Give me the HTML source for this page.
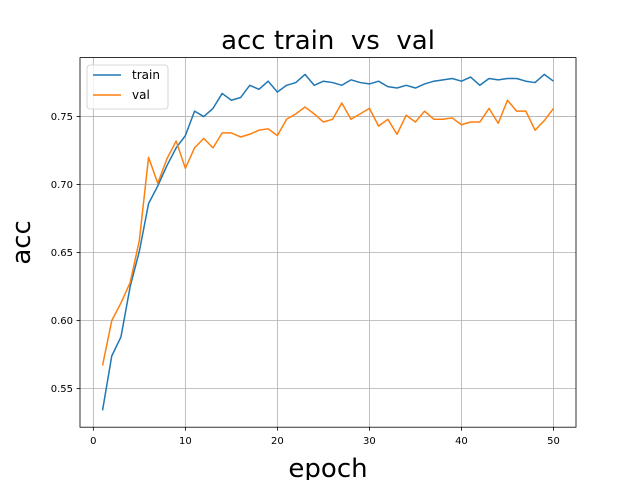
<!DOCTYPE html>
<html><head><meta charset="utf-8"><style>
html,body{margin:0;padding:0;background:#fff;}
svg{display:block;font-family:"DejaVu Sans","Liberation Sans",sans-serif;}
</style></head><body>
<svg id="chart" width="640" height="480" viewBox="0 0 640 480"></svg>
<script>
const epochs = Array.from({length:50},(_,i)=>i+1);
const trainAcc = [0.534,0.574,0.588,0.625,0.651,0.686,0.699,0.714,0.727,0.736,0.754,0.750,0.756,0.767,0.762,0.764,0.773,0.770,0.776,0.768,0.773,0.775,0.781,0.773,0.776,0.775,0.773,0.777,0.775,0.774,0.776,0.772,0.771,0.773,0.771,0.774,0.776,0.777,0.778,0.776,0.779,0.773,0.778,0.777,0.778,0.778,0.776,0.775,0.781,0.776];
const valAcc = [0.567,0.600,0.613,0.628,0.659,0.720,0.701,0.719,0.732,0.712,0.727,0.734,0.727,0.738,0.738,0.735,0.737,0.740,0.741,0.736,0.748,0.752,0.757,0.752,0.746,0.748,0.760,0.748,0.752,0.756,0.743,0.748,0.737,0.751,0.746,0.754,0.748,0.748,0.749,0.744,0.746,0.746,0.756,0.745,0.762,0.754,0.754,0.740,0.747,0.756];
const xTicks = [0,10,20,30,40,50];
const yTicks = [0.55,0.60,0.65,0.70,0.75];

const L=80,R=576,T=57.6,B=427.2;
const xMin=-1.45,xMax=52.45;
const allY=trainAcc.concat(valAcc);
const yLo=Math.min(...allY),yHi=Math.max(...allY),pad=(yHi-yLo)*0.05;
const yMin=yLo-pad,yMax=yHi+pad;
const X=v=>L+(v-xMin)/(xMax-xMin)*(R-L);
const Y=v=>B-(v-yMin)/(yMax-yMin)*(B-T);
const NS="http://www.w3.org/2000/svg";
const svg=document.getElementById('chart');
function mk(tag,attrs,parent){const e=document.createElementNS(NS,tag);for(const k in attrs)e.setAttribute(k,attrs[k]);(parent||svg).appendChild(e);return e;}

xTicks.forEach(t=>{
  const g=mk('line',{x1:X(t),x2:X(t),y1:T,y2:B,stroke:'#b0b0b0','stroke-width':0.8});
  
  
  mk('line',{x1:X(t),x2:X(t),y1:B,y2:B+3.5,stroke:'#000','stroke-width':0.8});
  const tx=mk('text',{x:X(t),y:B+17,'font-size':10,'text-anchor':'middle',fill:'#000'});
  tx.textContent=t;
  
  
});
yTicks.forEach(t=>{
  const g=mk('line',{x1:L,x2:R,y1:Y(t),y2:Y(t),stroke:'#b0b0b0','stroke-width':0.8});
  
  
  mk('line',{x1:L-3.5,x2:L,y1:Y(t),y2:Y(t),stroke:'#000','stroke-width':0.8});
  const tx=mk('text',{x:L-7,y:Y(t)+3.5,'font-size':10,'text-anchor':'end',fill:'#000'});
  tx.textContent=t.toFixed(2);
  
  
});

function series(data,color,name){
  const p=mk('polyline',{points:data.map((v,i)=>X(epochs[i])+','+Y(v)).join(' '),fill:'none',stroke:color,'stroke-width':1.5,'stroke-linejoin':'round'});
  
  
}
series(trainAcc,'#1f77b4','train-line');
series(valAcc,'#ff7f0e','val-line');

const frame=mk('rect',{x:L,y:T,width:R-L,height:B-T,fill:'none',stroke:'#000','stroke-width':0.8});



const title=mk('text',{x:(L+R)/2,y:49,'font-size':26,'text-anchor':'middle',fill:'#000',style:'white-space:pre'});
title.textContent='acc train  vs  val';


const xl=mk('text',{x:(L+R)/2,y:477,'font-size':26,'text-anchor':'middle',fill:'#000'});
xl.textContent='epoch';


const yl=mk('text',{x:0,y:0,'font-size':26,'text-anchor':'middle',fill:'#000',transform:'translate(30,'+((T+B)/2)+') rotate(-90)'});
yl.textContent='acc';



const lg=mk('g',{});


mk('rect',{x:87,y:65,width:81,height:44,rx:3,fill:'#fff','fill-opacity':0.8,stroke:'#ccc','stroke-width':0.8},lg);
[['train','#1f77b4',79],['val','#ff7f0e',99]].forEach(([n,c,y])=>{
  mk('line',{x1:93,x2:121,y1:y-4,y2:y-4,stroke:c,'stroke-width':1.5},lg);
  const t=mk('text',{x:132,y:y,'font-size':12,fill:'#000'},lg);
  t.textContent=n;
  
  
});
</script>
</body></html>
